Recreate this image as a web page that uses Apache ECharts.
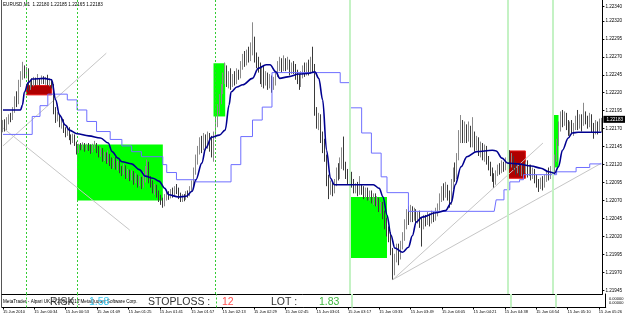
<!DOCTYPE html>
<html><head><meta charset="utf-8">
<script src="https://cdn.jsdelivr.net/npm/echarts@6/dist/echarts.min.js"></script>
<style>html,body{margin:0;padding:0;background:#fff}#c{width:625px;height:315px}</style>
</head><body><div id="c"></div>
<script>
// All prices are stored in points above 1.20000 (1 point = 0.00001)
const BASE = 1.2, PT = 0.00001;
const FONT = 'Liberation Sans, Arial, sans-serif';

const tickLabels = ['15 Jun 2010','15 Jun 00:34','15 Jun 00:53','15 Jun 01:09','15 Jun 01:25','15 Jun 01:41','15 Jun 01:57','15 Jun 02:13','15 Jun 02:29','15 Jun 02:45','15 Jun 03:01','15 Jun 03:17','15 Jun 03:33','15 Jun 03:49','15 Jun 04:05','15 Jun 04:21','15 Jun 04:38','15 Jun 04:54','15 Jun 05:10','15 Jun 05:26'];
const priceTicks = [1.22340,1.22320,1.22295,1.22270,1.22245,1.22220,1.22195,1.22170,1.22145,1.22120,1.22095,1.22070,1.22045,1.22020,1.21995,1.21970,1.21945];
const lastPrice = 2183;

const opens = [
2172,2178,2170,2180,2186,2184,2196,2210,2206,2232,2244,2252,2246,2250,
2228,2234,2232,2237,2234,2238,2235,2240,2236,2238,2234,2236,2230,
2196,2184,2188,2176,2180,2168,2164,2170,2158,2154,2160,2150,
2140,2146,2144,2148,2143,2147,2144,2140,2146,2148,2142,2136,
2140,2130,2134,2126,2132,2124,2120,2126,2118,2122,2114,2110,2116,2106,2110,
2102,2108,2098,2104,2094,2100,2092,2098,2112,2120,2100,2094,2086,2090,2080,2074,2070,2066,
2076,2080,2076,2082,2078,2086,2084,2078,2072,2076,2074,2080,2078,
2086,2092,2110,2128,2140,2150,2144,2156,2148,2158,2152,2146,2160,2178,2196,2210,2226,2240,2250,
2236,2244,2232,2240,2236,2248,2244,2258,2266,2262,2272,2268,2280,
2290,2270,2262,2258,2240,2252,2236,2244,2232,2240,2230,2236,2246,2258,
2262,2256,2264,2258,2262,2252,2258,2254,2246,2240,2232,2244,2252,2248,2256,2250,2262,
2256,2196,2180,2186,2160,2150,2130,2100,
2084,2090,2082,2094,2110,2104,2120,2132,2118,2110,2100,2106,
2096,2086,2090,2082,2088,2084,2078,2084,2076,2080,2072,2076,2068,2070,2060,2064,2050,2040,2028,
2020,2000,1972,1990,2004,1994,2008,2020,2036,2050,2044,
2056,2048,2054,2044,2050,2040,2036,2044,2040,2048,2042,2050,2046,2054,
2060,2074,2084,2078,2088,2080,2070,2092,2110,2104,2130,2160,2176,2158,
2170,2160,2168,2150,2160,2146,2154,2140,2146,2134,2140,2128,2120,2112,2104,2096,2108,2116,2112,2120,2116,2124,
2130,2122,2128,2120,2112,2118,2110,2116,2112,2118,2110,2116,2104,2110,2100,2094,2090,2098,2092,2100,2108,2104,2112,2110,
2128,2150,2172,2186,2180,2188,2176,
2168,2176,2168,2174,2184,2176,2182,2178,2190,2184,2178,2186,2172,2168,2176,2170,2180];
const closes = [
2178,2170,2180,2186,2184,2196,2210,2206,2232,2244,2252,2246,2250,2228,
2234,2232,2237,2234,2238,2235,2240,2236,2238,2234,2236,2230,2196,
2184,2188,2176,2180,2168,2164,2170,2158,2154,2160,2150,2140,
2146,2144,2148,2143,2147,2144,2140,2146,2148,2142,2136,2140,
2130,2134,2126,2132,2124,2120,2126,2118,2122,2114,2110,2116,2106,2110,2102,
2108,2098,2104,2094,2100,2092,2098,2112,2120,2100,2094,2086,2090,2080,2074,2070,2066,2076,
2080,2076,2082,2078,2086,2084,2078,2072,2076,2074,2080,2078,2086,
2092,2110,2128,2140,2150,2144,2156,2148,2158,2152,2146,2160,2178,2196,2210,2226,2240,2250,2236,
2244,2232,2240,2236,2248,2244,2258,2266,2262,2272,2268,2280,2290,
2270,2262,2258,2240,2252,2236,2244,2232,2240,2230,2236,2246,2258,2262,
2256,2264,2258,2262,2252,2258,2254,2246,2240,2232,2244,2252,2248,2256,2250,2262,2256,
2196,2180,2186,2160,2150,2130,2100,2084,
2090,2082,2094,2110,2104,2120,2132,2118,2110,2100,2106,2096,
2086,2090,2082,2088,2084,2078,2084,2076,2080,2072,2076,2068,2070,2060,2064,2050,2040,2028,2020,
2000,1972,1990,2004,1994,2008,2020,2036,2050,2044,2056,
2048,2054,2044,2050,2040,2036,2044,2040,2048,2042,2050,2046,2054,2060,
2074,2084,2078,2088,2080,2070,2092,2110,2104,2130,2160,2176,2158,2170,
2160,2168,2150,2160,2146,2154,2140,2146,2134,2140,2128,2120,2112,2104,2096,2108,2116,2112,2120,2116,2124,2130,
2122,2128,2120,2112,2118,2110,2116,2112,2118,2110,2116,2104,2110,2100,2094,2090,2098,2092,2100,2108,2104,2112,2110,2128,
2150,2172,2186,2180,2188,2176,2168,
2176,2168,2174,2184,2176,2182,2178,2190,2184,2178,2186,2172,2168,2176,2170,2180,2183];
const lows = [
2165,2166,2168,2176,2179,2182,2192,2200,2204,2228,2238,2240,2240,2222,
2224,2228,2229,2230,2231,2230,2232,2232,2231,2230,2229,2226,2190,
2178,2180,2172,2170,2164,2158,2160,2154,2148,2150,2146,2134,
2136,2140,2141,2138,2140,2139,2135,2137,2142,2136,2130,2131,
2124,2125,2121,2122,2118,2114,2115,2113,2112,2108,2104,2106,2100,2101,2097,
2098,2092,2094,2088,2090,2086,2088,2095,2104,2094,2088,2080,2078,2074,2068,2064,2060,2062,
2070,2071,2073,2074,2076,2079,2072,2068,2068,2069,2071,2074,2076,
2082,2088,2106,2120,2134,2136,2140,2140,2142,2138,2130,2124,2156,2172,2190,2204,2218,2232,2228,
2226,2224,2228,2230,2232,2238,2240,2252,2256,2258,2262,2264,2272,
2262,2254,2248,2232,2228,2226,2230,2224,2226,2220,2224,2230,2242,2250,
2248,2250,2250,2252,2244,2246,2246,2238,2232,2224,2228,2240,2242,2244,2244,2246,2248,
2188,2170,2168,2150,2136,2124,2090,2072,
2078,2076,2080,2090,2098,2100,2114,2112,2100,2092,2094,2088,
2080,2080,2076,2078,2078,2072,2074,2070,2070,2066,2064,2062,2062,2054,2052,2044,2030,2020,2012,
1994,1960,1966,1984,1980,1988,2002,2014,2030,2036,2040,
2040,2042,2036,2038,2032,2006,2030,2034,2036,2034,2038,2040,2042,2048,
2056,2068,2070,2074,2070,2060,2064,2086,2096,2100,2126,2150,2150,2150,
2150,2152,2144,2144,2138,2140,2132,2130,2126,2124,2120,2112,2104,2096,2088,2092,2104,2106,2108,2110,2112,2118,
2114,2116,2112,2106,2108,2104,2104,2106,2108,2102,2104,2098,2100,2094,2088,2082,2086,2084,2088,2096,2098,2100,2102,2106,
2124,2146,2166,2172,2174,2168,2160,
2160,2162,2160,2168,2168,2170,2166,2174,2176,2170,2172,2164,2156,2162,2162,2166,2165];
const highs = [
2182,2183,2186,2190,2192,2200,2215,2222,2238,2250,2263,2258,2256,2254,
2238,2240,2242,2241,2246,2240,2244,2243,2242,2245,2240,2239,2232,
2200,2193,2191,2184,2183,2172,2174,2172,2162,2163,2162,2152,
2149,2150,2151,2150,2149,2150,2148,2149,2153,2150,2146,2144,
2143,2138,2137,2140,2135,2130,2129,2131,2125,2127,2118,2121,2119,2114,2113,
2112,2111,2108,2106,2104,2103,2110,2118,2127,2124,2104,2098,2093,2092,2084,2078,2074,2079,
2084,2083,2086,2088,2090,2093,2088,2081,2079,2079,2083,2084,2090,
2098,2116,2134,2146,2158,2160,2164,2162,2166,2164,2160,2166,2188,2204,2218,2232,2248,2262,2258,
2250,2254,2246,2250,2254,2252,2264,2274,2278,2280,2284,2290,2318,
2298,2276,2270,2262,2256,2258,2250,2248,2246,2244,2242,2250,2264,2270,
2268,2272,2268,2270,2266,2262,2264,2260,2252,2246,2250,2258,2262,2262,2266,2270,2284,
2260,2200,2192,2190,2166,2156,2134,2106,
2098,2096,2100,2116,2122,2130,2144,2159,2124,2114,2112,2110,
2100,2094,2096,2104,2092,2090,2088,2088,2084,2084,2080,2080,2076,2074,2068,2068,2056,2046,2034,
2026,2004,1996,2010,2010,2014,2026,2044,2058,2062,2064,
2062,2060,2058,2054,2056,2046,2050,2050,2054,2052,2056,2054,2060,2066,
2080,2090,2094,2096,2092,2084,2100,2116,2123,2136,2168,2189,2182,2180,
2176,2180,2174,2186,2166,2160,2158,2152,2150,2148,2146,2132,2124,2116,2108,2112,2120,2122,2126,2124,2130,2140,
2140,2136,2132,2124,2122,2122,2120,2122,2124,2126,2120,2120,2116,2114,2106,2100,2102,2104,2106,2112,2116,2118,2116,2134,
2156,2180,2194,2196,2194,2192,2182,
2180,2182,2178,2188,2196,2190,2190,2206,2194,2188,2192,2190,2178,2182,2180,2184,2185];

// indicator lines: [bar index, points]
const smoothLine = [[0,2196],[9,2196],[10,2203],[11,2221],[13,2234],[15,2239],[21,2240],[25,2238],[27,2210],[29,2189],[32,2175],[34,2168],[38,2163],[44,2160],[50,2157],[54,2150],[56,2138],[59,2129],[61,2124],[66,2121],[70,2113],[73,2104],[77,2101],[80,2097],[83,2087],[85,2078],[90,2075],[94,2076],[97,2083],[99,2099],[102,2122],[104,2143],[107,2158],[111,2161],[114,2168],[116,2203],[117,2221],[120,2228],[123,2231],[128,2240],[131,2254],[135,2259],[137,2259],[140,2249],[142,2240],[146,2242],[152,2246],[157,2247],[160,2249],[162,2240],[164,2210],[166,2140],[168,2101],[170,2092],[190,2092],[193,2087],[195,2075],[197,2050],[199,2022],[201,2004],[205,1998],[208,2005],[210,2021],[212,2040],[215,2047],[222,2053],[227,2056],[230,2067],[232,2092],[235,2117],[238,2131],[243,2138],[251,2140],[253,2139],[256,2129],[259,2122],[264,2121],[271,2118],[276,2115],[280,2110],[283,2108],[285,2117],[287,2140],[290,2157],[292,2164],[295,2165],[307,2165]];
const stepLine = [[0,2162],[15,2187],[19,2202],[23,2218],[33,2210],[38,2196],[43,2180],[48,2166],[55,2155],[61,2146],[66,2138],[71,2131],[82,2120],[84,2109],[89,2099],[99,2096],[117,2120],[122,2159],[128,2182],[133,2200],[138,2248],[173,2234],[178,2199],[184,2164],[189,2136],[194,2103],[197,2081],[208,2055],[252,2057],[253,2071],[257,2085],[260,2096],[265,2099],[267,2106],[284,2110],[294,2116],[301,2121],[307,2121]];
const trendLines = [[[0,2146],[53,2275]],[[0,2171],[65,2029]],[[200,1960],[277,2150]],[[200,1960],[307,2122]]];
// rectangles: [fromBar, toBar, priceA, priceB, colour]
const rects = [[38,82,2148,2070,'#00ff00'],[108,114,2261,2187,'#00ff00'],[178,197,2075,1990,'#00ff00'],[282,285,2189,2116,'#00ff00'],[12,25,2230,2217,'#b00000'],[259,268,2139,2101,'#b00000']];
const dashedBars = [12,38,109];
const solidBars = [178,259,282];

const toP = p => +(BASE + p * PT).toFixed(5);
const categories = closes.map((_, i) => String(i));
const candleData = closes.map((c, i) => [toP(opens[i]), toP(c), toP(lows[i]), toP(highs[i])]);
const pairs = arr => arr.map(d => [d[0], toP(d[1])]);

const vlineData = dashedBars.map(i => ({xAxis: i, lineStyle: {color: '#33cc33', type: [2, 2], width: 1}}))
  .concat(solidBars.map(i => ({xAxis: i, lineStyle: {color: '#c4f2c4', type: 'solid', width: 2}})));

const chart = echarts.init(document.getElementById('c'), null, {renderer: 'canvas'});
chart.setOption({
  animation: false,
  backgroundColor: '#fff',
  textStyle: {fontFamily: FONT},
  grid: [
    {left: 2, right: 19, top: 0, height: 294},
    {left: 2, right: 19, top: 294, height: 13.5}
  ],
  xAxis: [
    {type: 'category', gridIndex: 0, data: categories, boundaryGap: true,
     axisLine: {show: true, lineStyle: {color: '#000', width: 1}}, axisTick: {show: false}, axisLabel: {show: false}, splitLine: {show: false}},
    {type: 'category', gridIndex: 1, data: categories, boundaryGap: true,
     axisLine: {show: true, lineStyle: {color: '#000', width: 1}},
     axisTick: {show: true, interval: 15, alignWithLabel: true, length: 2, lineStyle: {color: '#000'}},
     axisLabel: {show: true, interval: 15, align: 'left', margin: 2, fontSize: 4, color: '#000', fontFamily: FONT,
       formatter: (v, idx) => tickLabels[Math.round(idx / 16)] || ''},
     splitLine: {show: false}}
  ],
  yAxis: [
    {type: 'value', gridIndex: 0, position: 'right', min: 1.21940, max: 1.22349, scale: true,
     splitLine: {show: false},
     axisLine: {show: true, lineStyle: {color: '#000', width: 1}},
     axisTick: {show: true, length: 2, customValues: priceTicks, lineStyle: {color: '#000'}},
     axisLabel: {show: true, customValues: priceTicks, margin: 3, fontSize: 4.6, color: '#000', fontFamily: FONT,
       formatter: v => v.toFixed(5)}},
    {type: 'value', gridIndex: 1, position: 'right', min: 0, max: 1,
     splitLine: {show: false}, axisLine: {show: true, lineStyle: {color: '#000'}}, axisTick: {show: false}, axisLabel: {show: false}}
  ],
  series: [
    {type: 'line', name: 'objects', xAxisIndex: 0, yAxisIndex: 0, data: [], z: 1, silent: true, symbol: 'none',
     markArea: {silent: true, data: rects.map(r => [
       {xAxis: r[0], yAxis: toP(r[2]), itemStyle: {color: r[4], borderColor: r[4] === '#b00000' ? '#e81818' : r[4], borderWidth: r[4] === '#b00000' ? 1 : 0}},
       {xAxis: r[1], yAxis: toP(r[3])}])},
     markLine: {silent: true, symbol: 'none', label: {show: false}, data: vlineData}},
    {type: 'line', name: 'objects2', xAxisIndex: 1, yAxisIndex: 1, data: [], z: 1, silent: true, symbol: 'none',
     markLine: {silent: true, symbol: 'none', label: {show: false}, data: vlineData}}
  ].concat(trendLines.map(t => ({
    type: 'line', xAxisIndex: 0, yAxisIndex: 0, data: pairs(t), z: 2, silent: true, showSymbol: false,
    lineStyle: {color: '#c6c6c6', width: 1}
  }))).concat([
    {type: 'candlestick', xAxisIndex: 0, yAxisIndex: 0, data: candleData, z: 3, barWidth: 1,
     itemStyle: {color: '#ffffff', color0: '#000000', borderColor: '#8a8a8a', borderColor0: '#3a3a3a', borderWidth: 1}},
    {type: 'line', xAxisIndex: 0, yAxisIndex: 0, data: pairs(stepLine), step: 'end', z: 4, silent: true, showSymbol: false,
     lineStyle: {color: '#6f6fff', width: 1}},
    {type: 'line', xAxisIndex: 0, yAxisIndex: 0, data: pairs(smoothLine), smooth: 0.35, smoothMonotone: 'x', z: 5, silent: true, showSymbol: false,
     lineStyle: {color: '#000090', width: 1.6}},
    {type: 'line', name: 'price', xAxisIndex: 0, yAxisIndex: 0, data: [[closes.length - 1, toP(lastPrice)]], z: 6, silent: true,
     symbol: 'circle', symbolSize: 0.01, showSymbol: true, lineStyle: {opacity: 0}, itemStyle: {color: 'rgba(0,0,0,0)'},
     label: {show: true, position: 'right', distance: 2, formatter: () => toP(lastPrice).toFixed(5),
       backgroundColor: '#000', color: '#fff', fontSize: 4.6, fontFamily: FONT, padding: [1, 3, 1, 3]}}
  ]),
  graphic: [
    {type: 'line', shape: {x1: 1.5, y1: 0, x2: 1.5, y2: 307.5}, style: {stroke: '#555', lineWidth: 1}, silent: true},
    {type: 'text', x: 3, y: 5, style: {text: 'EURUSD,M1  1.22180 1.22185 1.22165 1.22183', fontSize: 4.6, fontFamily: FONT, fill: '#000', verticalAlign: 'middle'}},
    {type: 'text', x: 3, y: 301.5, style: {text: 'MetaTrader - Alpari UK, \u00a9 2001-2010 MetaQuotes Software Corp.', fontSize: 4.6, fontFamily: FONT, fill: '#000', verticalAlign: 'middle'}},
    {type: 'text', x: 50, y: 302.5, style: {text: 'RISK :', fontSize: 10.5, fontFamily: FONT, fill: '#333', verticalAlign: 'middle'}},
    {type: 'text', x: 89, y: 302.5, style: {text: '1.58', fontSize: 10.5, fontFamily: FONT, fill: '#3cc8f0', verticalAlign: 'middle'}},
    {type: 'text', x: 148, y: 302.5, style: {text: 'STOPLOSS :', fontSize: 10.5, fontFamily: FONT, fill: '#333', verticalAlign: 'middle'}},
    {type: 'text', x: 222, y: 302.5, style: {text: '12', fontSize: 10.5, fontFamily: FONT, fill: '#ff5050', verticalAlign: 'middle'}},
    {type: 'text', x: 271, y: 302.5, style: {text: 'LOT :', fontSize: 10.5, fontFamily: FONT, fill: '#333', verticalAlign: 'middle'}},
    {type: 'text', x: 319, y: 302.5, style: {text: '1.83', fontSize: 10.5, fontFamily: FONT, fill: '#40b840', verticalAlign: 'middle'}},
    {type: 'text', x: 609, y: 298.5, style: {text: '0.00000', fontSize: 4, fontFamily: FONT, fill: '#000', verticalAlign: 'middle'}},
    {type: 'text', x: 609, y: 302.5, style: {text: '0.00000', fontSize: 4, fontFamily: FONT, fill: '#000', verticalAlign: 'middle'}}
  ]
});
</script>
</body></html>
